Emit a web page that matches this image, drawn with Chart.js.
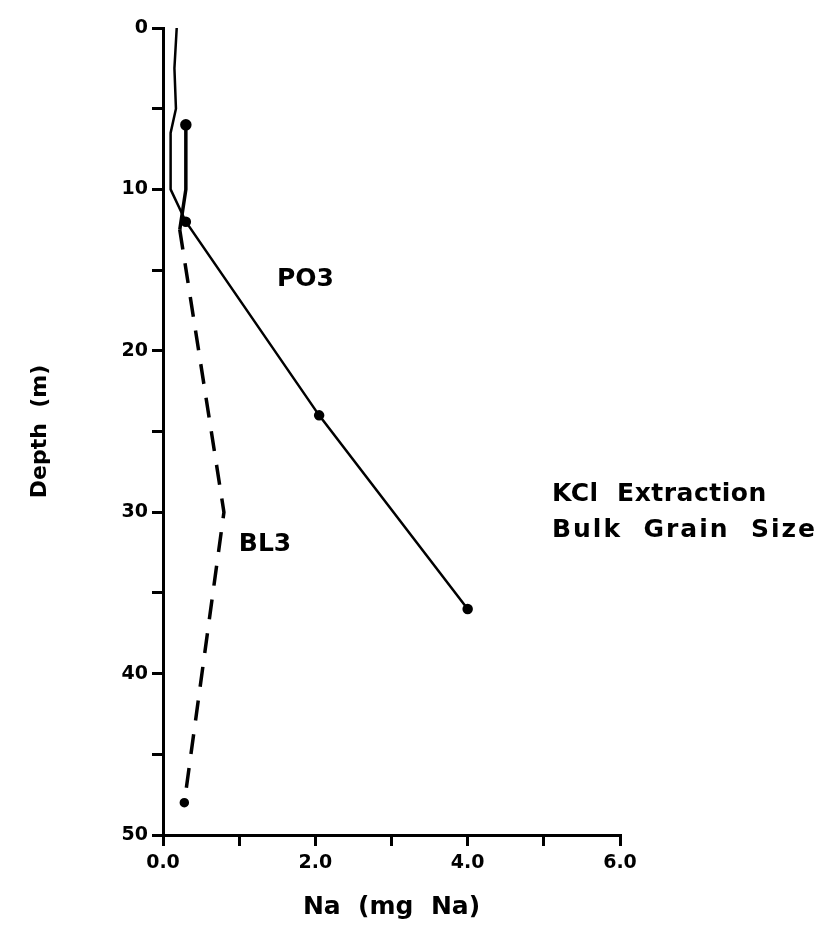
<!DOCTYPE html>
<html>
<head>
<meta charset="utf-8">
<script src="https://cdn.jsdelivr.net/npm/chart.js@4"></script>
<style>
  html, body { margin: 0; padding: 0; background: #fff; }
  #wrap { width: 829px; height: 934px; position: relative; }
</style>
</head>
<body>
<div id="wrap"><canvas id="naChart"></canvas></div>
<script>
// Values: Na (mg Na) against depth (m)
const po3Na    = [0.18, 0.15, 0.17, 0.10, 0.10, 0.30, 2.05, 4.00];
const po3Depth = [0, 2.5, 5, 6.5, 10, 12, 24, 36];
const bl3Na    = [0.30, 0.30, 0.22, 0.80, 0.28];
const bl3Depth = [6, 10, 12.5, 30, 48];
const xTicks = [0, 1, 2, 3, 4, 5, 6];
const yTicks = [0, 5, 10, 15, 20, 25, 30, 35, 40, 45, 50];

const toPoints = (xs, ys) => xs.map((x, i) => ({ x: x, y: ys[i] }));

// free text on the plot
const notes = {
    id: 'notes',
    afterDatasetsDraw(chart) {
        const ctx = chart.ctx;
        const xs = chart.scales.x, ys = chart.scales.y;
        ctx.save();
        ctx.fillStyle = '#000';
        ctx.font = 'bold 25px "DejaVu Sans"';
        ctx.textBaseline = 'middle';
        ctx.textAlign = 'center';
        ctx.fillText('PO3', xs.getPixelForValue(1.87), ys.getPixelForValue(15.6));
        ctx.fillText('BL3', xs.getPixelForValue(1.34), ys.getPixelForValue(32));
        ctx.textAlign = 'left';
        ctx.letterSpacing = '0.5px';
        ctx.fillText('KCl  Extraction', 552, 494);
        ctx.letterSpacing = '2px';
        ctx.fillText('Bulk  Grain  Size', 552, 530);
        ctx.restore();
    }
};

new Chart(document.getElementById('naChart'), {
    type: 'scatter',
    data: {
        datasets: [
            {
                label: 'PO3',
                data: toPoints(po3Na, po3Depth),
                showLine: true,
                borderColor: '#000',
                backgroundColor: '#000',
                borderWidth: 2.5,
                pointRadius: [0, 0, 0, 0, 0, 4, 4, 4]
            },
            {
                label: 'BL3',
                data: toPoints(bl3Na, bl3Depth),
                showLine: true,
                borderColor: '#000',
                backgroundColor: '#000',
                borderWidth: 3.5,
                pointRadius: [4, 0, 0, 0, 3],
                segment: {
                    borderDash: c => c.p0DataIndex < 2 ? [] : [20, 14]
                }
            }
        ]
    },
    options: {
        responsive: true,
        maintainAspectRatio: false,
        animation: false,
        layout: { padding: { top: 28, right: 209, left: 0, bottom: 0 } },
        plugins: {
            legend: { display: false },
            tooltip: { enabled: false }
        },
        scales: {
            x: {
                type: 'linear',
                min: 0,
                max: 6,
                afterBuildTicks: s => { s.ticks = xTicks.map(v => ({ value: v })); },
                afterFit: s => { s.height = 99; },
                ticks: {
                    color: '#000',
                    font: { family: '"DejaVu Sans"', size: 19, weight: 'bold' },
                    padding: 6,
                    maxRotation: 0,
                    callback: v => v % 2 === 0 ? v.toFixed(1) : ''
                },
                grid: { drawOnChartArea: false, drawTicks: true, tickLength: 11, color: '#000', lineWidth: 3 },
                border: { color: '#000', width: 3 },
                title: {
                    display: true,
                    text: 'Na  (mg  Na)',
                    color: '#000',
                    font: { family: '"DejaVu Sans"', size: 25, weight: 'bold' },
                    padding: { top: 2, bottom: 12 }
                }
            },
            y: {
                type: 'linear',
                reverse: true,
                min: 0,
                max: 50,
                afterBuildTicks: s => { s.ticks = yTicks.map(v => ({ value: v })); },
                afterFit: s => { s.width = 163; },
                ticks: {
                    color: '#000',
                    font: { family: '"DejaVu Sans"', size: 19, weight: 'bold' },
                    padding: 4,
                    callback: v => v % 10 === 0 ? String(v) : ''
                },
                grid: { drawOnChartArea: false, drawTicks: true, tickLength: 11, color: '#000', lineWidth: 3 },
                border: { color: '#000', width: 3 },
                title: {
                    display: true,
                    text: 'Depth  (m)',
                    color: '#000',
                    font: { family: '"DejaVu Sans"', size: 22, weight: 'bold' },
                    padding: { top: 27, bottom: 4 }
                }
            }
        }
    },
    plugins: [notes]
});
</script>
</body>
</html>
